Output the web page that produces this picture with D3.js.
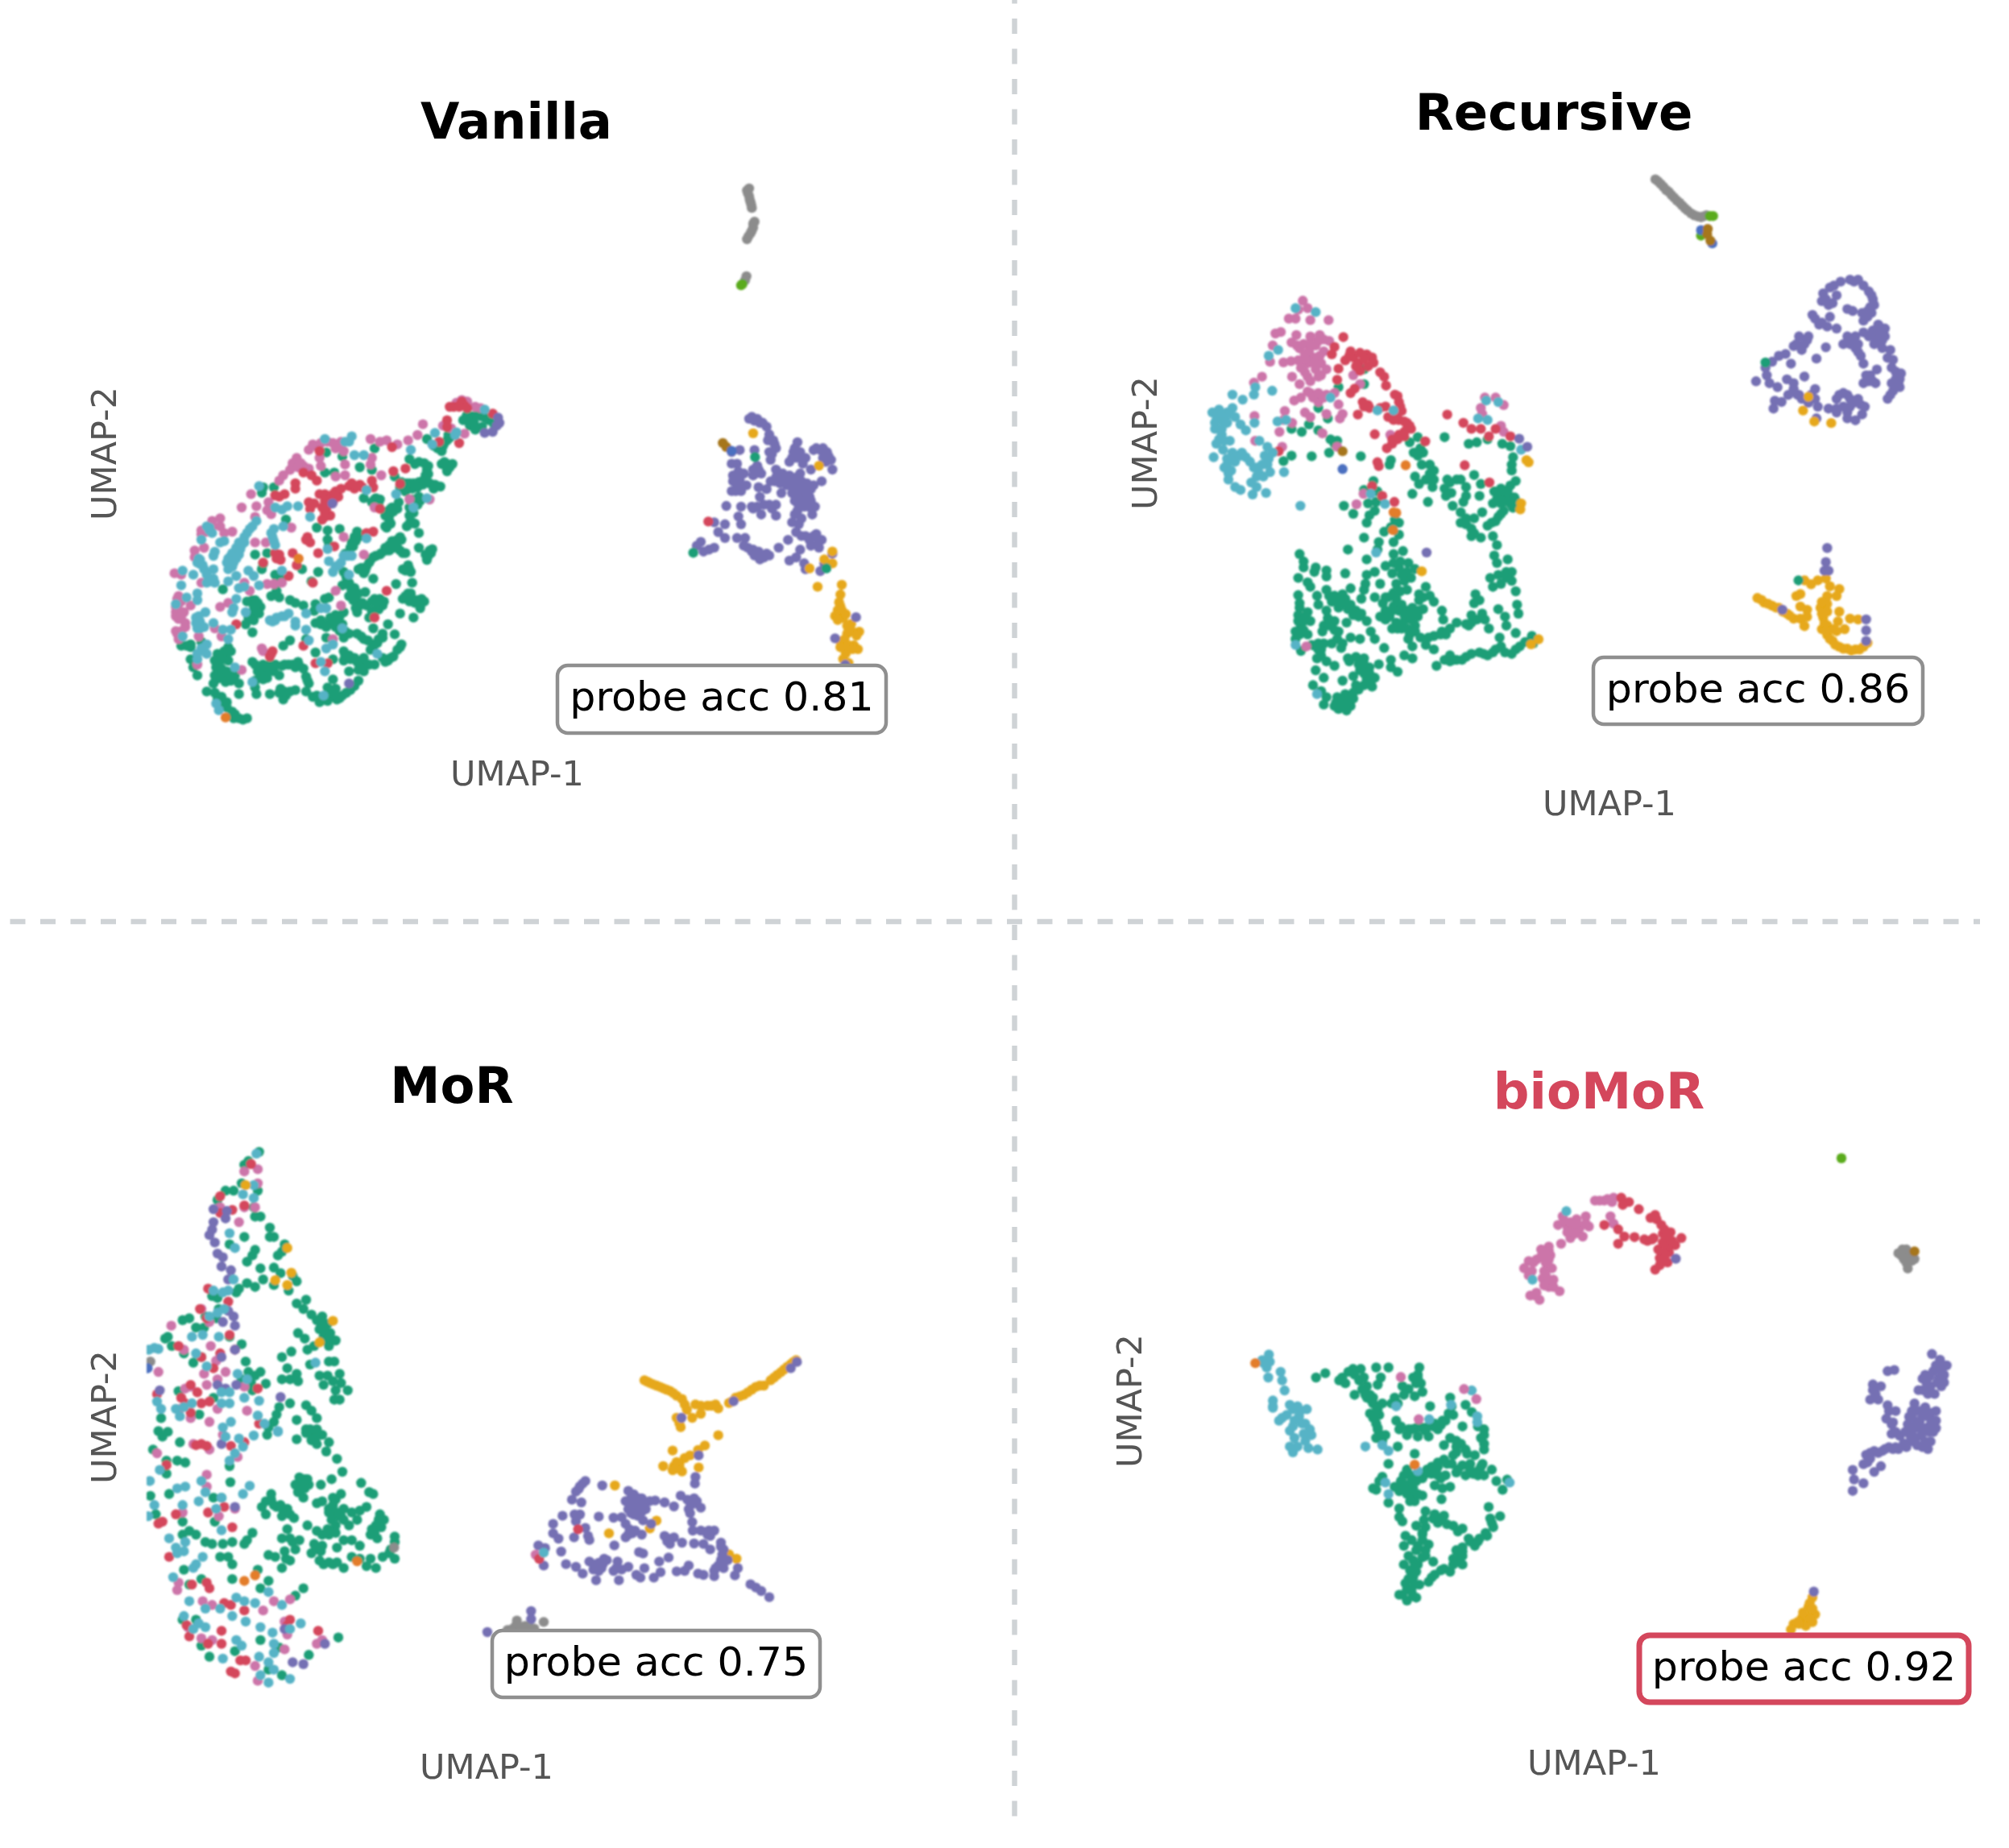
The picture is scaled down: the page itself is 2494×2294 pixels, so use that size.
<!DOCTYPE html>
<html><head><meta charset="utf-8"><style>html,body{margin:0;background:#fff}svg{display:block}</style>
<script src="https://cdn.jsdelivr.net/npm/d3@7/dist/d3.min.js"></script></head><body><div id="c"></div>
<script>
const vanillaLeftGreen=[1285,205,1310,200,1340,200,1370,215,1275,215,1300,235,1320,250,1345,240,1390,230,1220,270,1215,290,1200,310,1180,320,1195,330,1140,285,1165,310,1210,375,1235,378,1195,378,1215,395,1215,405,1075,360,1095,378,1130,375,1140,400,1135,420,1125,440,1110,445,1150,450,1190,462,1165,470,1075,450,1055,465,1020,425,1040,465,1065,450,1085,470,1110,500,1100,520,1075,540,1075,570,1095,600,1065,610,1110,635,1040,650,1005,600,985,610,990,555,1010,540,1035,520,1000,570,965,510,945,510,935,520,905,505,945,320,1020,670,1000,680,985,690,1040,700,1060,710,1000,700,970,710,950,720,930,735,915,760,895,765,905,785,940,805,1110,690,1160,695,1145,720,1140,735,1065,765,1050,770,1080,780,1085,820,1025,825,880,630,885,650,860,670,855,690,835,712,770,660,775,680,730,615,770,625,815,620,830,780,825,830,850,820,860,850,870,870,880,890,850,870,880,930,910,855,945,880,960,900,980,890,950,920,925,950,940,990,995,975,1020,1012,975,1010,960,1030,940,1050,930,1070,1045,1050,1030,1070,1015,1095,995,1110,975,1100,1070,860,1050,880,1075,890,1095,895,1120,895,1115,915,1090,950,1040,935,760,880,775,875,630,885,650,895,680,905,725,900,720,925,800,940,780,950,830,930,725,970,745,975,765,985,800,985,835,1000,830,1025,880,1010,905,1030,830,1075,850,1090,870,1100,830,1110,895,1110,910,1125,890,1135,945,1125,905,1150,850,1150,765,1025,725,1080,790,1105,690,1030,630,1035,605,1055,400,1060,385,1075,360,1085,350,1110,365,1130,375,1160,345,1195,395,1170,420,1180,440,1195,320,1225,350,1230,375,1245,395,1265,415,1300,420,1325,455,1330,470,1325,440,1235,500,1210,505,1235,490,1115,515,1135,530,1125,545,1140,520,1165,545,1175,570,1150,590,1165,600,1130,625,1125,660,1115,680,1140,690,1170,700,1195,555,1235,595,1215,615,1240,605,1255,650,1220,690,1225,730,1240,745,1260,770,1260,805,1255,825,1240,855,1220,885,1185,770,1210,800,1215,790,1180,470,890,500,885,520,910,490,930,475,950,495,960,465,975,490,1005,580,850,590,875,560,870,525,770,530,750,575,790,600,800,580,815,615,585,675,770,735,780,710,815,500,715,545,710,380,845,260,1050,225,1055,260,1105,270,1135,285,1165,300,1040,530,465,570,465,525,485,760,410,795,410,765,335,825,350,890,390,935,400];
const vanillaLeftGreenMore=[1295,220,1330,195,1355,205,1315,225,1290,195,1205,300,1225,280,1185,305,1205,370,1225,390,1110,370,1145,385,1145,415,1125,455,1105,465,1140,440,1170,455,1090,450,1060,480,1045,445,1115,515,1085,510,1105,530,1090,560,1075,600,1085,595,1000,590,990,615,1005,545,985,570,1015,555,1030,545,960,530,950,505,1030,660,1010,665,1045,660,1050,710,1030,690,1015,690,990,700,965,715,940,725,925,745,910,775,885,770,1155,710,1135,715,1150,700,1060,775,1070,755,1075,770,870,650,875,665,890,640,865,685,840,800,840,820,855,835,870,840,885,860,860,860,865,885,880,900,890,905,875,915,900,895,915,905,935,890,965,880,975,905,960,920,935,925,950,895,1065,880,1085,880,1105,885,1130,890,1120,880,1060,870,1080,860,745,960,770,975,790,960,815,945,800,965,825,975,815,1000,850,1010,895,1020,920,1035,940,1060,955,1045,975,1025,835,1090,855,1105,880,1115,905,1100,925,1125,885,1145,1005,1100,985,1115,1040,1060,375,1090,395,1085,410,1075,385,1105,400,1110,370,1105,355,1135,375,1140,395,1150,350,1165,370,1175,390,1190,410,1185,425,1165,355,1180,360,1255,380,1270,395,1285,425,1310,440,1325,500,1125,525,1145,510,1150,540,1165,555,1150,530,1180,500,1185,555,1125,575,1125,610,1125,640,1125,650,1135,665,1130,695,1185,590,1230,610,1225,630,1225,715,1245,740,1265,780,1245,795,1235,815,1250,780,1225,840,1230,870,1205,490,885,510,895,495,905,505,925,515,935,260,1060,245,1055];
const vanillaLeftPink=[1250,150,1270,140,1290,145,1320,165,1340,170,1125,230,1105,270,1070,290,1030,305,990,290,965,295,930,285,1200,235,1230,245,1280,265,700,325,720,310,745,300,770,295,790,300,800,320,820,295,830,330,740,355,745,385,655,355,640,375,680,385,700,395,630,400,605,420,590,440,935,355,930,380,835,380,835,420,800,425,970,420,485,490,505,535,450,540,550,520,545,550,560,565,370,580,340,590,370,610,320,630,300,640,415,630,385,635,275,700,275,725,310,690,200,785,225,790,215,870,215,900,205,930,235,930,215,955,240,970,225,1000,215,1030,260,905,350,990,375,1020,290,1020,370,910,400,895,500,575,635,615,500,670,540,670,545,825,570,825,600,820,800,850,820,905,830,650,905,715,1075,510,1150,510,945,540,525,1065,530,1075,790,1030,450,1145,285,1125,480,850,460,820,300,820,210,880,205,910,225,890,220,930,205,945,225,945,210,1010,220,1020,205,1000,240,985,670,375,690,395,640,385,660,390,715,305,810,310,300,625,340,610];
const vanillaLeftRed=[1240,165,1265,155,1280,160,1290,170,1385,190,1215,215,1215,240,1185,295,1260,300,1010,315,1015,405,1060,395,1040,452,965,545,940,630,990,850,945,950,740,330,680,410,650,450,650,470,710,420,730,440,575,495,610,490,590,500,700,520,720,525,705,545,740,490,760,490,780,500,800,480,820,470,810,500,790,520,770,530,760,560,750,585,780,570,850,460,870,470,890,455,900,465,935,440,940,465,695,650,705,670,690,660,735,710,795,685,915,635,585,720,595,735,640,710,655,755,625,795,715,820,530,745,430,975,680,1055,560,1085,555,1095,565,1075,725,1120,770,1120,790,490,775,510,760,515,800,500,750,540,765,545,760,575,860,450,880,460,1270,145,1260,165,1225,165,575,710,590,715,580,730];
const vanillaLeftTeal=[1355,175,1250,260,1245,270,1170,262,1160,305,1080,325,760,285,860,275,850,295,835,295,870,345,905,345,515,460,575,540,600,548,620,535,660,535,705,575,505,590,480,620,460,650,440,670,430,690,415,710,400,730,420,745,440,715,450,680,570,620,565,650,575,680,605,610,330,615,340,635,300,660,370,670,385,665,350,705,345,720,290,730,295,750,310,770,345,770,270,790,230,775,225,830,320,820,345,805,350,820,400,815,430,795,475,775,495,795,515,830,440,840,460,835,285,860,285,885,245,875,205,900,430,880,420,915,415,930,315,930,290,945,280,970,295,990,345,970,380,995,410,995,230,1020,400,1030,465,930,580,950,565,965,600,945,625,935,650,965,650,980,690,935,745,915,765,915,690,995,775,740,810,755,790,780,850,790,770,695,845,720,860,720,915,655,915,475,1025,490,1090,540,1140,505,600,775,700,1035,790,1050,765,1065,745,1115,760,1150,825,990,955,1085,755,1240,490,1190,425,1135,320,1050,300,1065,320,1085,285,1085,285,1105,355,1270,365,1295,425,705,410,720,395,745,430,730,445,695,460,670,470,635,490,610,415,760,400,770,560,635,570,665,330,625,320,610,295,735,285,745,305,755,320,790,335,815,280,950,295,965,310,985,285,990,555,960,575,960,610,945,830,720,800,760,820,745];
const vanillaLeftPurple=[1405,205,1410,225,1400,235,1355,262,1385,258,788,525,850,1195];
const vanillaLeftOrange=[390,1322,662,730];
const vanillaRightGray=[330,70,322,75,330,90,335,105,340,120,350,155,345,170,335,185,322,200,320,295,315,305,325,82,332,98,338,112,345,160,340,178,328,192];
const vanillaRightPurple=[330,660,350,665,370,670,395,680,405,700,420,715,430,735,405,745,410,765,510,720,495,745,520,745,540,760,480,770,560,790,570,740,595,740,620,745,635,765,640,790,605,760,265,745,295,740,350,740,265,775,285,775,355,790,375,800,345,805,270,805,295,815,310,800,320,830,265,845,300,845,365,835,370,860,430,790,455,800,480,815,500,825,410,820,395,840,450,850,520,800,570,830,555,860,530,860,510,875,535,885,565,905,575,885,600,820,500,905,515,930,490,925,430,880,405,880,375,905,430,908,345,890,300,885,245,883,290,910,300,930,240,930,200,925,215,950,240,965,285,965,315,965,200,990,180,995,150,975,135,985,160,1000,310,985,340,1000,360,1010,385,1015,405,1010,370,1020,440,990,475,970,505,950,540,960,580,955,600,970,560,985,520,995,480,1023,505,1015,535,1030,595,1050,610,1030,640,1005,590,990,540,1045,340,655,360,660,380,670,410,715,425,725,400,715,415,750,500,735,510,745,530,775,505,760,490,760,580,735,605,735,625,755,615,770,360,780,345,790,350,800,365,790,270,820,285,830,280,845,290,795,440,800,465,810,430,810,445,825,425,820,470,830,490,835,525,820,545,825,560,840,530,835,545,850,520,870,535,865,550,885,560,870,490,850,510,850,500,870,340,885,360,885,385,880,415,890,510,895,525,915,345,995,350,1010,365,1000,375,1010,395,1005,325,990,525,960,555,970,570,960,590,975,520,840,540,870,480,805,460,820,505,810];
const vanillaRightYellow=[345,697,590,780,640,1000,610,1020,640,1030,555,1043,585,1090,675,1085,670,1110,670,1140,650,1165,680,1170,710,1185,740,1205,695,1210,670,1230,720,1240,690,1260,735,1250,680,1275,700,1285,665,1130,660,1150,675,1150,690,1160,660,1175,695,1190,715,1205,730,1215,685,1225,700,1240,715,1250,670,1245];
const vanillaRightPurpleTop=[728,1168,650,1222,688,1290];
const vanillaRightBrown=[232,722,245,732];const vanillaRightBlue=[265,742];const vanillaRightGreen=[352,758,122,1003,618,1043];const vanillaRightRed=[178,923];const vanillaRightLime=[305,315,300,318];
const recursiveLeftGreen=[540,560,515,555,530,570,370,520,408,530,435,505,470,525,370,610,340,628,445,612,510,600,628,612,640,320,640,370,545,380,470,450,505,485,840,548,940,548,810,565,845,595,825,600,860,600,740,625,735,640,1030,570,1060,565,1100,555,1155,570,1185,578,1195,615,1190,640,1190,660,855,640,885,640,900,660,830,680,845,705,880,690,895,715,820,738,878,765,950,690,985,690,1000,690,940,720,965,735,1020,715,1020,745,1050,675,1075,705,1070,745,1010,765,970,778,1125,730,1150,720,1185,710,1205,695,1165,750,1120,770,1150,770,1185,770,1195,785,1215,770,1000,800,1020,820,1000,835,1080,800,1050,820,1150,805,1130,830,1100,845,1040,855,1040,880,1075,885,1120,880,1135,910,1125,945,1135,970,1175,958,675,695,640,725,690,730,565,778,600,805,655,770,685,765,680,795,660,810,650,835,755,825,770,835,740,850,770,875,715,865,640,885,695,900,690,925,580,925,650,958,750,900,750,940,785,930,775,965,805,970,400,940,415,965,415,985,460,985,500,995,500,1015,570,1005,455,1000,395,1020,430,1035,440,1050,395,1078,650,1010,680,1000,720,980,745,1005,780,1010,830,990,815,1020,645,1040,640,1060,700,1040,870,1050,885,1080,900,1100,500,1060,530,1080,560,1075,590,1055,550,1100,590,1110,630,1090,610,1130,680,1085,720,1085,750,1070,775,1065,800,1060,845,1075,400,1105,430,1135,395,1145,440,1165,405,1180,430,1210,385,1225,465,1080,470,1110,500,1130,530,1165,490,1180,545,1200,575,1170,630,1140,650,1165,665,1200,720,1130,750,1115,780,1110,820,1120,860,1125,840,1150,800,1155,760,1170,720,1160,780,1190,830,1180,810,1210,850,1220,930,1130,935,1160,960,1190,930,1200,900,1215,880,1220,985,1170,1020,1175,1050,1160,1080,1140,1105,1190,1055,1075,1070,1095,1050,1105,1110,1020,1140,1010,1170,1000,1190,1030,1205,1065,1120,1050,1140,1125,1165,1150,1170,1180,1145,1220,1205,1205,1210,1110,1215,1140,1150,1250,1130,1260,1100,1280,1070,1270,1190,1275,1220,1250,1265,1215,1270,1240,940,1295,960,1300,985,1295,1020,1285,910,1315,900,1260,870,1245,820,1250,790,1280,820,1290,740,1295,695,1310,740,1320,765,1335,715,1255,460,1250,480,1260,405,1265,520,1240,560,1240,590,1220,625,1225,680,1225,465,1290,500,1300,530,1315,580,1290,610,1285,640,1290,660,1320,460,1330,490,1355,560,1365,625,1330,600,1350,650,1360,680,1355,670,1385,450,1380,480,1400,500,1420,490,1445,540,1420,570,1410,600,1425,560,1440,590,1450,545,1460,575,1465,620,1395];
const recursiveLeftGreenMore=[1145,745,1165,730,1180,745,1160,765,1135,755,1200,750,1175,725,1205,760,1115,835,1140,815,1160,795,1060,1160,1040,1170,1030,1180,400,1120,420,1150,395,1165,415,1195,400,1210,385,1200,415,1165,510,1080,545,1090,520,1100,570,1090,575,1110,545,1120,600,1145,580,1125,620,1150,510,1180,530,1195,505,1155,485,1200,730,1085,760,1090,745,1130,770,1130,800,1130,825,1135,845,1130,790,1145,815,1160,785,1170,800,1190,765,1190,745,1190,830,1200,805,1225,710,1105,735,1150,700,1150,860,1085,845,1095,470,1260,480,1280,490,1240,470,1240,445,1245,540,1225,555,1255,585,1300,620,1310,640,1310,580,1425,555,1425,570,1445,535,1440,600,1405,585,1430,530,1450,640,1340,660,1340,640,1380,665,1370,610,1380,830,600,850,585,840,610,925,1210,945,1210,960,1280,975,1295,1005,1295,1040,1275,1165,1270,1205,1260,1240,1235,1085,1275,1120,1270,1190,1000,1170,1020,1150,1040,885,670,870,690,900,690,960,700,945,745,1020,840,1050,870,750,970,770,985,800,1000,790,1030,760,1040,1040,1145,1090,1160];
const recursiveLeftPink=[412,90,430,115,395,120,360,150,385,150,440,155,508,155,310,200,330,195,388,205,300,240,290,295,340,297,368,293,370,230,400,250,440,210,475,205,510,225,490,260,450,280,420,270,460,240,395,290,430,300,480,300,500,320,460,320,420,330,372,345,400,370,440,360,470,345,260,345,230,365,405,415,380,425,440,400,470,430,500,405,530,400,345,460,340,490,325,530,232,477,372,500,420,465,440,480,500,470,545,438,560,470,550,485,485,535,540,580,1090,415,1130,415,1160,440,1075,450,1080,470,1150,510,1160,530,738,540,638,738,612,773,425,1250,335,580,235,560,600,340,625,370,390,240,415,235,435,260,470,225,490,220,440,235,475,275,440,295,405,315,430,345,455,300,420,285,480,340,450,415,430,395,470,400,490,415];
const recursiveLeftRed=[563,212,530,245,520,270,590,260,600,280,650,270,670,280,675,298,620,300,625,325,545,318,540,355,700,330,715,345,722,375,605,385,590,400,755,405,770,430,635,430,660,450,700,450,720,445,780,460,730,480,770,490,800,500,815,520,790,530,770,540,745,570,725,585,617,472,680,538,950,472,1010,500,1040,520,1075,520,1130,520,1105,545,1185,545,868,562,1015,642,690,632,695,645,1107,700,670,712,708,745,753,765,322,595,625,265,640,285,655,310,610,310,585,275,570,290,765,410,775,445,760,480,800,520,810,510,750,490,790,495,745,555,765,555,790,545,640,445,655,440];
const recursiveLeftTeal=[385,115,460,128,320,255,285,275,235,380,230,405,298,392,150,405,188,422,75,465,100,455,130,465,150,450,90,490,120,500,160,480,85,520,110,540,180,505,200,525,90,570,140,560,115,590,80,615,150,600,185,600,130,640,160,630,215,630,200,615,250,560,280,580,300,600,280,640,135,670,135,690,240,680,265,680,290,665,260,640,240,650,160,715,180,725,240,715,225,740,275,735,318,495,350,490,232,500,342,665,515,415,690,458,750,458,403,778,665,738,718,772,1095,425,1140,430,1065,485,1100,490,1225,590,685,935,385,1245,465,1410,95,470,120,480,110,470,140,470,85,500,130,500,110,520,100,555,120,560,165,610,140,620,180,610,230,650,270,610,285,620,250,670,120,650,130,620,145,660,220,700];
const recursiveLeftOrange=[750,800,748,860,795,642,760,802];const recursiveLeftBlue=[560,655];const recursiveLeftBrown=[560,595];const recursiveLeftPurple=[1218,553,1248,580,873,935];
const recursiveLeftYellow=[1245,625,1253,632,1225,770,1222,790,855,998,1290,1226,1262,1243];
const recursiveRightGray=[285,88,305,100,325,115,345,128,365,142,385,155,405,168,430,180,455,185,475,180,295,93,315,107,335,120,355,135,375,148,395,162,418,175,443,183,463,183];
const recursiveRightLime=[500,182,488,182,455,232];const recursiveRightBlue=[455,218,497,252];const recursiveRightBrown=[480,215,490,245,478,228];
const recursiveRightPurple=[1010,345,1040,345,975,350,1060,360,1090,385,1100,410,935,365,910,380,960,385,905,400,930,410,1000,420,1020,425,1090,430,1060,450,1075,440,870,435,895,460,925,465,960,470,935,440,1000,490,1030,490,1060,480,1100,480,1130,470,1140,490,1100,510,1130,520,985,510,1010,510,1040,530,820,490,855,490,840,510,800,515,830,525,770,535,745,540,920,518,885,547,790,560,720,555,695,570,700,590,660,605,710,610,740,620,775,600,800,610,840,593,780,640,820,640,830,650,880,625,880,650,890,670,855,660,730,655,755,658,725,675,1060,560,1070,590,1080,605,1110,575,1060,610,1105,610,1160,525,1170,550,1150,545,1180,580,1195,600,1170,630,1150,650,1195,620,985,635,1010,650,960,650,1040,650,1065,670,930,675,960,685,1000,685,1030,705,1055,690,1000,700,885,700,950,360,1025,350,1080,375,1095,395,1085,415,920,395,945,405,1075,425,1055,430,880,445,905,455,1020,500,1080,490,1120,490,1110,500,1040,510,850,500,810,510,1185,590,1200,585,1190,610,1175,620,1160,640,1075,600,1095,605,800,625,815,640,865,640,970,640,1000,640,1025,660,1050,665,985,670,1010,670,1095,475,1130,500,1115,460,1140,470,1165,570,1180,600,1165,610,1085,590,1050,540,1030,520,1010,500,960,675];
const recursiveRightYellow=[835,680,877,708,940,712,855,645,840,1115,865,1125,890,1115,920,1110,935,1130,970,1137,960,1155,925,1155,915,1175,900,1185,810,1155,825,1150,665,1160,690,1172,720,1180,745,1185,775,1200,800,1213,825,1213,825,1182,850,1190,850,1208,840,1232,970,1195,910,1210,925,1230,905,1240,925,1255,945,1270,970,1285,1000,1290,1030,1292,1060,1285,965,1220,990,1240,960,1245,1010,1213,1040,1215,1075,1275,925,1175,905,1200,915,1225,920,1245,935,1265,955,1280,985,1290,1015,1295,1045,1292,905,1170,925,1195,680,1165,705,1175,735,1185,760,1195,785,1205,950,1240];
const recursiveRightGreen=[695,557,818,1115];
const recursiveRightPurpleTop=[925,1032,920,1068,915,1090,930,1090,758,1190,1070,1215,1070,1243,1070,1270];
const morLeftGreen=[485,65,445,90,430,100,420,150,390,170,360,170,330,195,465,215,470,240,490,240,480,170,525,270,525,295,540,295,430,295,375,315,470,330,460,345,440,362,580,315,570,335,555,345,490,380,540,378,565,393,610,400,625,415,500,410,470,430,440,420,410,435,400,445,540,425,595,440,625,475,660,465,650,490,680,505,720,510,740,530,710,545,730,555,750,570,770,575,745,590,725,565,630,555,655,570,665,600,690,590,675,640,745,632,765,632,570,620,605,605,330,460,310,455,335,490,285,510,200,520,225,515,250,540,280,540,145,565,135,570,325,515,375,565,420,585,160,590,205,610,240,635,270,620,435,632,445,660,470,670,490,660,455,690,510,692,460,710,420,680,590,650,625,665,570,680,600,680,630,685,710,670,740,670,785,665,725,695,760,685,790,690,815,710,770,710,785,735,765,735,185,712,315,730,120,785,262,775,560,755,600,745,660,750,680,765,700,785,550,775,540,795,520,810,515,830,625,790,660,815,680,825,700,815,720,830,680,845,700,855,745,850,735,875,625,842,775,895,795,930,110,820,145,822,125,835,190,850,90,870,140,900,180,900,210,905,140,935,378,958,375,915,635,945,655,950,670,965,620,965,630,985,650,1000,715,965,755,950,865,960,895,985,910,990,530,990,510,1010,540,1020,565,1020,590,1030,495,1025,510,1045,570,1050,615,1055,700,1015,720,1010,760,1000,790,990,745,1030,775,1040,800,1030,830,1040,860,1035,885,1025,665,1075,700,1090,740,1085,770,1075,800,1060,820,1075,850,1060,935,1045,950,1060,920,1075,900,1100,925,1110,990,1105,590,1085,600,1110,570,1110,635,1115,620,1140,580,1145,520,1155,545,1160,600,1170,570,1190,690,1125,720,1130,680,1150,710,1170,745,1175,775,1175,800,1190,800,1115,830,1115,860,1130,775,1135,830,1160,860,1165,885,1185,920,1190,945,1160,970,1150,990,1165,900,1165,460,1095,440,1115,430,1125,225,1090,200,1100,250,1100,285,1120,310,1125,350,1125,385,1120,340,1160,370,1160,385,1180,205,1195,385,1220,480,1195,490,1245,520,1225,650,1245,620,1265,80,995,150,990,100,1045,200,1065,320,1065,315,1000,345,1000,225,1235,270,1220,200,1330,250,1330,395,1415,270,1400,300,1430,490,1385,560,1405,670,1425,780,1378,520,1465,570,1480,730,545,715,530,750,555,745,570,735,575,700,520,685,825,710,830,695,840,675,815,660,825,640,950,650,965,640,980,665,950,655,975,530,1005,550,1025,575,1035,600,1045,770,1005,760,1020,745,1040,780,1050,755,1060,790,1050,770,1095,745,1100,720,1100,930,1060,905,1085,915,1095,940,1080,715,1145,695,1140,725,1180,760,1180,610,1120,585,1165,990,1120,975,1140];
const morLeftPink=[480,112,430,118,470,215,480,150,430,215,340,215,410,255,158,535,270,490,300,525,205,600,305,590,325,630,360,660,280,665,110,660,290,695,230,700,210,705,430,700,330,680,190,760,300,795,230,785,440,765,330,760,240,855,300,870,350,830,405,890,105,880,290,938,290,970,200,1040,335,1050,395,1030,180,1250,185,1230,275,1280,310,1290,600,1275,540,1280,500,1305,580,1335,590,1370,700,1395,720,1385,220,1350,270,1380,310,1385,580,1410,470,1455,480,1495];
const morLeftRed=[455,98,340,185,340,230,385,222,430,210,295,435,265,490,290,515,370,470,375,560,185,590,270,620,340,610,315,650,395,600,230,695,255,715,480,705,105,720,195,730,210,745,270,745,300,740,230,770,270,855,290,860,250,858,380,860,430,850,140,912,485,800,125,1065,110,1070,175,1045,355,1025,295,1040,385,1080,150,1160,235,1235,290,1230,300,1245,355,1285,380,1290,430,1305,215,1345,225,1375,345,1360,295,1395,345,1395,600,1330,590,1345,705,1360,380,1470,395,1475,415,1440,435,1440];
const morLeftPurple=[315,220,365,225,360,245,315,255,310,275,300,290,320,310,330,340,350,350,345,375,380,385,370,410,370,495,390,510,350,525,395,535,345,620,395,600,330,695,360,705,400,695,115,710,345,855,565,728,395,1025,730,1395,610,1445,650,1450,580,1355];
const morLeftTeal=[475,70,465,155,425,180,465,190,375,285,395,325,390,410,370,440,350,445,315,440,330,500,355,490,275,560,235,565,300,510,335,565,95,595,110,598,75,600,250,610,290,645,405,665,440,680,345,715,375,715,430,730,485,738,105,740,120,760,175,760,205,755,235,745,190,780,345,745,375,745,380,795,350,810,480,778,505,800,555,820,465,832,410,840,360,835,425,862,395,880,375,900,115,925,78,955,450,968,425,990,180,975,210,970,270,955,285,985,200,1020,260,1010,345,1000,325,1030,95,1020,72,1050,345,1088,150,1110,175,1135,210,1120,205,1145,180,1150,250,1180,275,1160,240,1190,165,1215,225,1280,340,1300,285,1300,400,1270,430,1280,470,1285,520,1255,570,1290,205,1320,260,1340,240,1355,285,1350,385,1320,435,1335,600,1355,640,1340,490,1350,535,1365,400,1385,420,1400,485,1430,540,1395,540,1420,350,1435,520,1445,540,1465,490,1480,520,1500,600,1490,695,635,555,822];
const morLeftGray=[80,632,988,1135];const morLeftBlue=[70,650];const morLeftYellow=[590,325,545,412,605,392,590,425,760,522,710,580,435,155];const morLeftOrange=[430,1225,470,1210,850,1172];
const morRightYellow=[660,160,680,170,705,180,730,190,755,200,780,218,800,230,810,250,818,270,850,250,870,255,895,255,925,250,935,265,870,285,838,300,975,245,1000,225,1030,215,1060,195,1075,185,1105,180,1130,160,1155,140,1180,120,1205,100,1225,85,780,300,790,320,795,335,935,365,885,403,860,420,830,440,810,450,765,422,790,470,770,480,730,480,800,500,765,495,862,485,550,552,528,730,1003,825,680,712,705,683,975,808,670,165,692,175,718,185,742,195,768,208,1015,220,1045,205,1090,180,1143,150,1168,130,1192,110,1215,92,985,240,910,255,790,480,780,465,775,490];
const morRightPurple=[798,300,992,238,1205,115,1228,92,862,440,850,520,848,545,440,535,420,555,405,575,390,605,425,615,503,552,600,572,620,585,640,600,605,625,630,635,660,620,650,650,620,660,680,610,700,608,735,615,770,630,795,590,820,605,845,600,870,635,825,640,830,655,545,672,575,670,590,695,490,668,655,682,685,695,838,688,400,660,420,660,405,685,440,710,450,740,455,755,355,665,320,695,320,730,340,750,398,745,605,715,625,720,590,745,650,735,735,740,745,760,770,745,800,765,840,720,870,720,900,720,920,720,905,740,845,768,880,770,905,790,945,765,955,790,945,830,970,830,548,775,265,775,290,785,285,850,350,798,368,845,405,855,430,880,455,835,480,850,510,825,490,870,480,905,520,830,560,835,545,870,565,905,600,855,630,885,640,800,655,805,660,860,645,895,715,835,750,820,720,875,695,895,780,872,810,870,825,850,860,880,880,885,920,870,920,890,955,860,1008,860,997,887,1055,920,1075,932,1095,945,1125,968,238,1020,238,1050,75,1098,610,600,625,610,640,625,655,635,620,640,600,640,640,645,830,615,845,620,855,610,430,545,415,565,600,735,615,730,750,750,755,770,910,725,895,735,945,780,950,810,955,840,935,850,925,860,470,845,490,840,505,845,500,860,470,865,555,860,575,865,590,610,620,610,650,600,665,640,610,655,635,665];
const morRightGray=[185,1055,285,1060,150,1090,170,1085,200,1080,235,1085,215,1075,250,1085,180,1075,165,1095,200,1095,235,1095];const morRightTeal=[285,802];const morRightPink=[255,810];const morRightRed=[268,825,413,715];
const biomorLeftPink=[1150,85,1180,85,1205,90,1210,75,1200,140,1210,165,1120,140,1090,150,1045,140,1030,170,1060,175,1075,190,1100,180,1130,175,1110,210,1070,215,1040,235,1000,245,975,255,1005,275,990,300,960,290,935,295,920,320,935,345,985,330,1010,320,980,355,1015,360,1000,385,1035,400,960,405,940,415,970,430,1190,80,1165,85,1050,155,1070,160,1090,165,1060,195,1085,200,1120,165,1000,260,990,270,975,280,1000,290,950,300,945,330,990,345,1000,365,985,380,1015,385,955,415];
const biomorLeftRed=[1235,75,1260,90,1240,100,1292,115,1330,145,1350,150,1365,170,1180,170,1225,185,1245,210,1278,212,1225,235,1310,220,1335,220,1370,200,1395,195,1430,215,1380,230,1410,240,1355,255,1390,265,1360,285,1385,300,1345,325,1345,135,1375,185,1385,205,1370,230,1385,245,1370,265,1400,225,1375,285,1360,310,1340,215,1320,225];
const biomorLeftTeal=[1057,122,947,360,92,620,70,640,85,665,90,700,130,680,135,710,143,745,105,780,105,805,125,850,160,795,185,800,215,810,150,830,190,835,200,860,160,885,225,880,175,910,210,920,160,940,170,960,220,945,250,950,405,940,460,935,480,955,75,650,95,645,105,800,135,840,170,810,175,850,195,815,210,860,170,870,205,895,185,940,230,900];
const biomorLeftOrange=[48,650,565,1003];const biomorLeftPurple=[1412,287];
const biomorLeftGreen=[245,700,275,685,320,710,340,720,365,670,390,670,385,710,370,760,410,730,440,665,480,665,455,700,445,725,580,665,575,690,570,720,590,750,565,765,525,730,500,770,490,790,410,770,430,790,460,790,420,825,440,860,450,900,460,920,505,850,515,880,540,900,570,875,610,870,640,880,665,850,690,830,685,800,680,770,615,800,610,905,575,905,730,795,750,820,720,870,790,880,780,910,790,930,770,870,680,910,660,935,700,940,730,950,510,940,565,965,480,1000,690,970,670,1000,720,1005,760,970,780,1010,770,1040,730,1040,640,1010,605,1020,590,1050,550,1040,520,1060,545,1080,500,1080,430,1085,460,1045,650,1050,630,1075,680,1080,815,1020,830,1060,850,1090,865,1055,550,1110,565,1130,590,1110,652,1123,480,1135,515,1155,515,1185,525,1200,600,1165,630,1175,660,1180,640,1205,600,1220,570,1215,690,1215,720,1225,805,1150,810,1190,842,1182,820,1220,800,1250,770,1270,740,1260,720,1290,535,1250,530,1285,590,1265,610,1280,570,1300,545,1320,590,1325,530,1350,575,1350,625,1340,660,1365,690,1330,720,1350,700,1300,570,1375,545,1400,580,1420,620,1395,515,1455,540,1475,570,1465,540,1435,400,745,420,760,430,770,440,800,450,830,445,880,455,900,555,880,590,875,625,870,650,865,575,700,585,720,700,960,685,1000,705,1020,745,1020,700,1030,620,1035,635,1025,570,1060,555,1060,530,1040,540,1105,790,900,790,950,785,1000,590,1245,575,1285,600,1300,560,1395,565,1420,555,1445,525,1455,720,1320,700,1340,680,1375];
const biomorLeftGreenMore=[400,700,395,740,405,760,425,780,445,810,430,840,445,875,440,910,470,900,520,870,545,880,580,870,600,885,630,860,655,850,675,825,560,700,545,740,530,760,510,790,350,680,370,690,330,700,700,920,715,930,735,965,745,1000,755,1035,775,1020,790,1040,660,985,640,995,620,1010,600,1035,575,1040,540,1020,530,1070,515,1095,540,1090,560,1085,450,1060,440,1090,640,1040,665,1040,655,1085,550,1130,575,1105,650,1195,670,1210,625,1190,705,1235,745,1270,760,1285,775,1260,795,1240,815,1205,720,1305,705,1320,690,1350,650,1370,630,1385,610,1410,595,1195,590,1240,555,1265,600,1320,560,1335,550,1370,565,1355,535,1415,560,1460];
const biomorLeftAccent=[505,800,612,845,683,795,768,835,768,855,575,1025,470,1065,480,1105,873,1065,750,745];
const biomorLeftPinkTop=[520,698,578,845,725,740,765,775];
const biomorRightLime=[798,80];const biomorRightGray=[1010,330,1040,320,1030,345,1060,350,1045,370,1020,335,1050,335,1040,355,1025,320,1070,345];const biomorRightBrown=[1070,325];
const biomorRightPurple=[1135,595,1165,610,1190,625,1180,650,1140,640,1110,650,1170,680,970,640,995,637,915,690,945,680,905,715,935,715,970,730,1085,690,1120,700,1145,700,1070,725,1110,735,1150,745,1000,745,965,765,990,775,1050,760,1090,770,1130,780,1060,800,1095,810,1130,825,1080,835,1055,825,985,805,1015,810,1010,845,975,840,950,850,920,850,890,860,905,870,880,885,840,900,845,925,840,955,880,935,920,905,945,890,1150,625,1175,625,1125,655,1100,690,1130,680,1155,670,1080,745,1060,760,1100,755,1130,750,1075,780,1110,790,1140,800,1075,815,1110,825,1045,780,915,675,925,700,1040,840,1000,840,1100,660,1115,670,1170,640,1160,660,1180,670,1060,745,1090,745,1120,760,1150,770,1060,785,1090,790,1125,800,1150,790,1100,840,1120,845,1055,810,1035,800,1000,800,985,780,975,745,1030,830,990,845,960,845,935,855,905,855,895,880];
const biomorRightYellow=[690,1235,675,1260,700,1280,650,1290,620,1305,665,1310,610,1320,680,1290,690,1300,670,1285,640,1305,680,1250,690,1265,655,1275,635,1300];const biomorRightPurpleTop=[695,1220];

const titles=["Vanilla","Recursive","MoR","bioMoR"];
const probes=["probe acc 0.81","probe acc 0.86","probe acc 0.75","probe acc 0.92"];
const xLabel="UMAP-1",yLabel="UMAP-2";

const colors={green:"#1f9e77",pink:"#cc74a9",red:"#d4465c",teal:"#57b3c6",purple:"#7570b3",yellow:"#e6a81a",gray:"#8c8c8c",lime:"#5aab1c",orange:"#e37d2a",brown:"#a6761d",blue:"#4c6fc0"};
// crop frame -> page scales
function view(x0,y0,w,h,kx,ky,clip){return {x:d3.scaleLinear([0,w*kx],[x0,x0+w]),y:d3.scaleLinear([0,h*ky],[y0,y0+h]),clip};}
const V={vl:view(150,450,520,480,3,3),vr:view(820,200,320,760,3,2.063),rl:view(1480,340,480,580,3,2.703),rr:view(1960,180,460,760,3,2.063),
 ml:view(160,1400,360,720,3,2.178,true),mr:view(580,1660,480,480,3,3),bl:view(1540,1460,600,560,2.613,2.8),br:view(2020,1400,460,740,3,2.119)};
const layers=[
["vl",vanillaLeftGreen,"green"],["vl",vanillaLeftGreenMore,"green"],["vl",vanillaLeftPink,"pink"],["vl",vanillaLeftRed,"red"],["vl",vanillaLeftTeal,"teal"],["vl",vanillaLeftPurple,"purple"],["vl",vanillaLeftOrange,"orange"],
["vr",vanillaRightGray,"gray"],["vr",vanillaRightLime,"lime"],["vr",vanillaRightPurple,"purple"],["vr",vanillaRightYellow,"yellow"],["vr",vanillaRightPurpleTop,"purple"],["vr",vanillaRightBrown,"brown"],["vr",vanillaRightBlue,"blue"],["vr",vanillaRightGreen,"green"],["vr",vanillaRightRed,"red"],
["rl",recursiveLeftGreen,"green"],["rl",recursiveLeftGreenMore,"green"],["rl",recursiveLeftPink,"pink"],["rl",recursiveLeftRed,"red"],["rl",recursiveLeftTeal,"teal"],["rl",recursiveLeftOrange,"orange"],["rl",recursiveLeftBlue,"blue"],["rl",recursiveLeftBrown,"brown"],["rl",recursiveLeftPurple,"purple"],["rl",recursiveLeftYellow,"yellow"],
["rr",recursiveRightGray,"gray"],["rr",recursiveRightLime,"lime"],["rr",recursiveRightBlue,"blue"],["rr",recursiveRightBrown,"brown"],["rr",recursiveRightPurple,"purple"],["rr",recursiveRightYellow,"yellow"],["rr",recursiveRightGreen,"green"],["rr",recursiveRightPurpleTop,"purple"],
["ml",morLeftGreen,"green"],["ml",morLeftPink,"pink"],["ml",morLeftRed,"red"],["ml",morLeftPurple,"purple"],["ml",morLeftTeal,"teal"],["ml",morLeftGray,"gray"],["ml",morLeftBlue,"blue"],["ml",morLeftYellow,"yellow"],["ml",morLeftOrange,"orange"],
["mr",morRightYellow,"yellow"],["mr",morRightPurple,"purple"],["mr",morRightGray,"gray"],["mr",morRightPink,"pink"],["mr",morRightRed,"red"],["mr",morRightTeal,"teal"],
["bl",biomorLeftGreen,"green"],["bl",biomorLeftGreenMore,"green"],["bl",biomorLeftPink,"pink"],["bl",biomorLeftRed,"red"],["bl",biomorLeftTeal,"teal"],["bl",biomorLeftAccent,"teal"],["bl",biomorLeftPinkTop,"pink"],["bl",biomorLeftOrange,"orange"],["bl",biomorLeftPurple,"purple"],
["br",biomorRightLime,"lime"],["br",biomorRightGray,"gray"],["br",biomorRightBrown,"brown"],["br",biomorRightPurple,"purple"],["br",biomorRightYellow,"yellow"],["br",biomorRightPurpleTop,"purple"]];

const svg=d3.select("#c").append("svg").attr("width",2494).attr("height",2294).style("background","#fff");
const defs=svg.append("defs");
defs.append("clipPath").attr("id","morClip").append("rect").attr("x",182).attr("y",1300).attr("width",900).attr("height",900);
defs.append("filter").attr("id","soft").attr("filterUnits","userSpaceOnUse").attr("x",0).attr("y",0).attr("width",2494).attr("height",2294).append("feGaussianBlur").attr("stdDeviation",1);
defs.append("filter").attr("id","softer").attr("filterUnits","userSpaceOnUse").attr("x",0).attr("y",0).attr("width",2494).attr("height",2294).append("feGaussianBlur").attr("stdDeviation",0.6);
const art=svg.append("g").attr("filter","url(#soft)");
const labels=svg.append("g").attr("filter","url(#softer)");
const R=6.2;
layers.forEach(([v,flat,c])=>{
  const pts=d3.range(0,flat.length,2).map(i=>[flat[i],flat[i+1]]),s=V[v];
  const g=art.append("g"); if(s.clip) g.attr("clip-path","url(#morClip)");
  g.selectAll("circle").data(pts).join("circle").attr("cx",d=>s.x(d[0])).attr("cy",d=>s.y(d[1])).attr("r",R).attr("fill",colors[c]);
});
const F="'DejaVu Sans'";
const layout=[
 {t:[641,172],x:[642,960],y:[129,563],b:[692,826,408,84]},
 {t:[1929,161],x:[1998,997],y:[1421,550],b:[1978,816,409,83]},
 {t:[561,1369],x:[604,2193],y:[129,1759],b:[611,2024,407,83]},
 {t:[1985,1376],x:[1979,2188],y:[1402,1739],b:[2035,2030,409,83]}];
layout.forEach((l,i)=>{
  const hot=i===3;
  labels.append("text").attr("x",l.t[0]).attr("y",l.t[1]).attr("text-anchor","middle").attr("font-family",F).attr("font-weight","bold").attr("font-size",62.5).attr("fill",hot?colors.red:"#000").text(titles[i]);
  labels.append("text").attr("x",l.x[0]).attr("y",l.x[1]+15).attr("text-anchor","middle").attr("font-family",F).attr("font-size",43).attr("fill","#555").text(xLabel);
  labels.append("text").attr("transform",`translate(${l.y[0]+15},${l.y[1]}) rotate(-90)`).attr("text-anchor","middle").attr("font-family",F).attr("font-size",43).attr("fill","#555").text(yLabel);
  const [bx,by,bw,bh]=l.b;
  labels.append("rect").attr("x",bx).attr("y",by).attr("width",bw).attr("height",bh).attr("rx",13).attr("fill","#fff").attr("stroke",hot?colors.red:"#8f8f8f").attr("stroke-width",hot?7:4.5);
  labels.append("text").attr("x",bx+bw/2).attr("y",by+56).attr("text-anchor","middle").attr("font-family",F).attr("font-size",50.6).attr("fill","#000").text(probes[i]);
});
const sep=svg.append("g").attr("stroke","#cfd3d6").attr("stroke-width",6.5).attr("stroke-dasharray","19 18.5");
sep.append("line").attr("x1",1259.5).attr("x2",1259.5).attr("y1",-14.5).attr("y2",2256);
sep.append("line").attr("x1",12.5).attr("x2",2458).attr("y1",1144).attr("y2",1144);
</script></body></html>
